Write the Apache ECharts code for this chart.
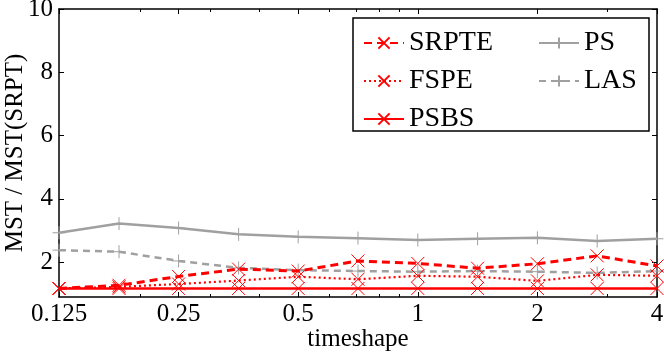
<!DOCTYPE html>
<html>
<head>
<meta charset="utf-8">
<script src="https://cdn.jsdelivr.net/npm/echarts@6/dist/echarts.min.js"></script>
<style>
html,body{margin:0;padding:0;background:#fff}
#main{width:664px;height:353px}
</style>
</head>
<body>
<div id="main"></div>
<script>
// timeshape values (half-octave steps)
var shapes = [0.125, 0.177, 0.25, 0.354, 0.5, 0.707, 1, 1.414, 2, 2.828, 4]
var srpte = [1.17, 1.27, 1.55, 1.78, 1.72, 2.04, 1.96, 1.81, 1.95, 2.2, 1.88]
var fspe  = [1.17, 1.22, 1.31, 1.42, 1.54, 1.46, 1.57, 1.54, 1.41, 1.6, 1.57]
var psbs  = [1.17, 1.17, 1.17, 1.17, 1.17, 1.17, 1.17, 1.17, 1.17, 1.17, 1.17]
var ps    = [2.93, 3.22, 3.08, 2.88, 2.8, 2.76, 2.7, 2.74, 2.77, 2.67, 2.74]
var las   = [2.38, 2.33, 2.04, 1.82, 1.75, 1.72, 1.7, 1.72, 1.7, 1.66, 1.72]
var yTicks = [2, 4, 6, 8, 10]
var minorX = [0.2, 0.3, 0.4, 0.6, 0.7, 0.8, 0.9, 3]

var FONT = 'Liberation Serif'
var RED = '#ff0000'
var GRAY = '#a0a0a0'
var XMARK = 'path://M0 0L10 10M10 0L0 10'
var PLUS = 'path://M0 5L10 5M5 0L5 10'

function pts(ys){
    return shapes.map(function(x,i){ return [x, ys[i]] })
}
function fmt(v){
    return String(+(+v).toPrecision(6))
}

var chart = echarts.init(document.getElementById('main'))

function mkSeries(name, ys, color, width, type, symbol, z){
    return {
        name: name,
        type: 'line',
        data: pts(ys),
        xAxisIndex: 0,
        yAxisIndex: 0,
        symbol: symbol,
        symbolSize: 13,
        showAllSymbol: true,
        z: z,
        itemStyle: {color: 'none', borderColor: color, borderWidth: 1},
        lineStyle: {color: color, width: width, type: type},
        emphasis: {disabled: true}
    }
}

var minorLog = minorX.map(function(v){ return Math.log2(v) })
var legendText = {fontFamily: FONT, fontSize: 28, color: '#000'}
var axisText = {fontFamily: FONT, fontSize: 25, color: '#000'}

chart.setOption({
    animation: false,
    textStyle: {fontFamily: FONT},
    grid: {left: 59, right: 7, top: 9, bottom: 56, outerBoundsMode: 'none', containLabel: false},
    graphic: [{
        type: 'rect',
        z: 5,
        shape: {x: 353, y: 18, width: 296, height: 113},
        style: {fill: '#fff', stroke: '#000', lineWidth: 1.5}
    }],
    legend: [{
        data: ['SRPTE', 'FSPE', 'PSBS'],
        orient: 'vertical',
        left: 358, top: 24,
        itemWidth: 40, itemHeight: 14, itemGap: 10,
        z: 10,
        textStyle: legendText
    }, {
        data: ['PS', 'LAS'],
        orient: 'vertical',
        left: 533, top: 24,
        itemWidth: 40, itemHeight: 14, itemGap: 10,
        z: 10,
        textStyle: legendText
    }],
    xAxis: [{
        type: 'log',
        logBase: 2,
        min: 0.125, max: 4,
        interval: 1,
        position: 'bottom',
        name: 'timeshape',
        nameLocation: 'middle',
        nameGap: 30,
        nameMoveOverlap: false,
        nameTextStyle: axisText,
        axisLine: {onZero: false, lineStyle: {color: '#000', width: 1.5}},
        axisTick: {inside: true, length: 5, lineStyle: {color: '#000'}},
        axisLabel: {fontFamily: FONT, fontSize: 25, color: '#000', margin: 5, formatter: fmt},
        splitLine: {show: false}
    }, {
        type: 'log',
        logBase: 2,
        min: 0.125, max: 4,
        interval: 1,
        position: 'top',
        axisLine: {onZero: false, lineStyle: {color: '#000', width: 1.5}},
        axisTick: {inside: true, length: 5, lineStyle: {color: '#000'}},
        axisLabel: {show: false},
        splitLine: {show: false}
    }, {
        type: 'value',
        min: -3, max: 2,
        position: 'bottom',
        axisLine: {show: false, onZero: false},
        axisTick: {inside: true, length: 3, customValues: minorLog, lineStyle: {color: '#000'}},
        axisLabel: {show: false},
        splitLine: {show: false}
    }, {
        type: 'value',
        min: -3, max: 2,
        position: 'top',
        axisLine: {show: false, onZero: false},
        axisTick: {inside: true, length: 3, customValues: minorLog, lineStyle: {color: '#000'}},
        axisLabel: {show: false},
        splitLine: {show: false}
    }],
    yAxis: [{
        type: 'value',
        min: 0.9, max: 10,
        position: 'left',
        name: 'MST / MST(SRPT)',
        nameLocation: 'middle',
        nameGap: 31,
        nameMoveOverlap: false,
        nameTextStyle: axisText,
        axisLine: {show: true, onZero: false, lineStyle: {color: '#000', width: 1.5}},
        axisTick: {show: true, inside: true, length: 5, customValues: yTicks, lineStyle: {color: '#000'}},
        axisLabel: {fontFamily: FONT, fontSize: 25, color: '#000', margin: 6, customValues: yTicks},
        splitLine: {show: false}
    }, {
        type: 'value',
        min: 0.9, max: 10,
        position: 'right',
        axisLine: {show: true, onZero: false, lineStyle: {color: '#000', width: 1.5}},
        axisTick: {show: true, inside: true, length: 5, customValues: yTicks, lineStyle: {color: '#000'}},
        axisLabel: {show: false},
        splitLine: {show: false}
    }],
    series: [
        mkSeries('SRPTE', srpte, RED, 3, [8, 5], XMARK, 6),
        mkSeries('FSPE', fspe, RED, 2.2, [2, 3], XMARK, 5),
        mkSeries('PSBS', psbs, RED, 2.5, 'solid', XMARK, 4),
        mkSeries('PS', ps, GRAY, 2.5, 'solid', PLUS, 3),
        mkSeries('LAS', las, GRAY, 2.5, [7, 5], PLUS, 3)
    ]
})
</script>
</body>
</html>
